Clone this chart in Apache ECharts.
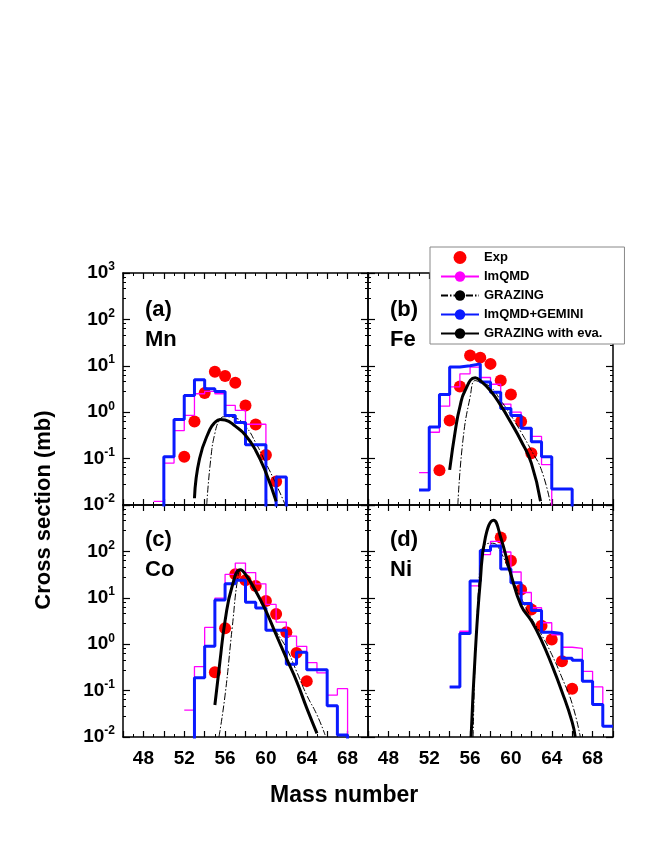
<!DOCTYPE html>
<html>
<head>
<meta charset="utf-8">
<script src="https://cdn.jsdelivr.net/npm/echarts@6/dist/echarts.min.js"></script>
<style>html,body{margin:0;padding:0;background:#fff}#chart{width:664px;height:860px}</style>
</head>
<body>
<div id="chart"></div>
<script>
// 直方图：起始质量数 + 每个质量数的值 (0.001 = 落到坐标轴以下)
var mnGeminiStart = 49;
var mnGemini = [0.001, 0.11, 0.7, 2.3, 5, 3.2, 2.8, 0.85, 0.6, 0.2, 0.2, 0.001, 0.04, 0.001];
var mnImqmdStart = 49;
var mnImqmd = [0.012, 0.08, 0.4, 0.85, 2.5, 2.8, 2.5, 1.4, 1.1, 0.55, 0.55, 0.001];
var feGeminiStart = 51;
var feGemini = [0.021, 0.48, 2.4, 9.4, 10, 11, 4.5, 2.7, 1.2, 0.85, 0.45, 0.23, 0.11, 0.022, 0.022, 0.001];
var feImqmdStart = 51;
var feImqmd = [0.05, 0.37, 1.35, 3.5, 6.7, 9.4, 5.6, 4, 1.5, 1.0, 0.45, 0.3, 0.074, 0.001];
var coGeminiStart = 52;
var coGemini = [0.001, 0.19, 0.9, 9, 20, 24, 8, 6, 2.0, 2.0, 0.37, 0.67, 0.28, 0.28, 0.047, 0.011, 0.001];
var coImqmdStart = 52;
var coImqmd = [0.038, 0.33, 2.3, 9.8, 32, 56, 35, 20, 7.2, 3, 1.5, 0.9, 0.4, 0.24, 0.08, 0.11, 0.001];
var niGeminiStart = 54;
var niGemini = [0.12, 1.7, 23, 105, 130, 42, 21, 7.5, 5.3, 1.8, 1.7, 0.5, 0.45, 0.16, 0.05, 0.017, 0.017];
var niImqmdStart = 54;
var niImqmd = [0.12, 1.9, 18, 85, 165, 97, 36, 13, 6.1, 2.9, 1.6, 0.86, 0.81, 0.26, 0.12, 0.017, 0.017];

// 实验点
var mnExpMass = [52, 53, 54, 55, 56, 57, 58, 59, 60, 61];
var mnExp = [0.11, 0.63, 2.6, 7.4, 6, 4.3, 1.4, 0.54, 0.12, 0.032];
var feExpMass = [53, 54, 55, 56, 57, 58, 59, 60, 61, 62];
var feExp = [0.056, 0.66, 3.6, 16.6, 15, 11, 4.8, 2.4, 0.63, 0.13];
var coExpMass = [55, 56, 57, 58, 59, 60, 61, 62, 63, 64];
var coExp = [0.25, 2.2, 32, 24, 18, 8.5, 4.5, 1.8, 0.65, 0.16];
var niExpMass = [59, 60, 61, 62, 63, 64, 65, 66];
var niExp = [200, 63, 15, 5.6, 2.5, 1.26, 0.43, 0.11];

// GRAZING 曲线 [质量数, 截面]
var mnGrazing = [[54.2, 0.01], [54.6, 0.1], [55, 0.35], [55.5, 0.7], [56, 0.8], [57, 0.75], [58, 0.5], [59, 0.22], [60, 0.08], [61, 0.028], [61.9, 0.01]];
var mnGrazingEva = [[53, 0.014], [53.5, 0.1], [54.5, 0.42], [55, 0.6], [55.5, 0.7], [56, 0.68], [57, 0.5], [58, 0.32], [59, 0.15], [60, 0.05], [61, 0.012]];
var feGrazing = [[54.8, 0.01], [55.3, 0.25], [56, 2.1], [56.5, 4.8], [57, 4.4], [58, 3.5], [59, 1.8], [60, 0.85], [61, 0.37], [62, 0.15], [63, 0.056], [63.9, 0.01]];
var feGrazingEva = [[54, 0.057], [54.6, 0.47], [55, 1.3], [55.5, 2.9], [56.5, 5.5], [57, 4.8], [58, 2.9], [59, 1.4], [60, 0.6], [61, 0.24], [62, 0.08], [62.9, 0.012]];
var coGrazing = [[55.4, 0.01], [56, 0.08], [56.7, 2.3], [57.3, 32], [57.6, 40], [58, 30], [59, 13], [60, 5.2], [61, 1.9], [62, 0.83], [63, 0.26], [64, 0.08], [65, 0.03], [65.8, 0.011]];
var coGrazingEva = [[55, 0.049], [55.5, 0.43], [56, 3.2], [56.7, 18], [57.5, 40], [58, 32], [59, 14], [60, 5.2], [61, 1.6], [62, 0.5], [63, 0.16], [64, 0.042], [65, 0.012]];
var niGrazing = [[56.3, 0.01], [57, 63], [57.6, 146], [58.2, 150], [59, 97], [60, 30], [61, 10], [62, 3.7], [63, 1.6], [64, 0.6], [65, 0.19], [66, 0.052], [66.8, 0.01]];
var niGrazingEva = [[56.1, 0.01], [56.5, 0.6], [57, 23], [57.5, 200], [58.3, 470], [59, 200], [60, 32], [61, 6.8], [62, 3.2], [63, 1.2], [64, 0.36], [65, 0.095], [66, 0.021], [66.3, 0.01]];

var massTicks = [48, 52, 56, 60, 64, 68];

var FONT = 'Liberation Sans';
var panels = [
    { tag: '(a)', el: 'Mn', gem: mnGemini, gemS: mnGeminiStart, imq: mnImqmd, imqS: mnImqmdStart, em: mnExpMass, ev: mnExp, gr: mnGrazing, gre: mnGrazingEva },
    { tag: '(b)', el: 'Fe', gem: feGemini, gemS: feGeminiStart, imq: feImqmd, imqS: feImqmdStart, em: feExpMass, ev: feExp, gr: feGrazing, gre: feGrazingEva },
    { tag: '(c)', el: 'Co', gem: coGemini, gemS: coGeminiStart, imq: coImqmd, imqS: coImqmdStart, em: coExpMass, ev: coExp, gr: coGrazing, gre: coGrazingEva },
    { tag: '(d)', el: 'Ni', gem: niGemini, gemS: niGeminiStart, imq: niImqmd, imqS: niImqmdStart, em: niExpMass, ev: niExp, gr: niGrazing, gre: niGrazingEva }
];
var boxes = [
    { left: 123, top: 273 }, { left: 368, top: 273 },
    { left: 123, top: 505 }, { left: 368, top: 505 }
];

function steps(start, vals) {
    return vals.map(function (v, i) { return [start + i, v]; });
}

var grid = [], xAxis = [], yAxis = [], series = [], graphic = [];
panels.forEach(function (p, g) {
    var b = boxes[g];
    grid.push({ left: b.left, top: b.top, width: 245, height: 232 });
    var bottomRow = g >= 2, leftCol = g % 2 === 0;
    var xBase = {
        type: 'value', gridIndex: g, min: 46, max: 70, interval: 2,
        axisLine: { lineStyle: { color: '#000', width: 1.5 } },
        axisTick: { inside: true, length: 6, lineStyle: { color: '#000', width: 1.2 } },
        minorTick: { show: true, splitNumber: 2, length: 3, lineStyle: { color: '#000' } },
        splitLine: { show: false }
    };
    xAxis.push(Object.assign({}, xBase, {
        position: 'bottom',
        axisLabel: {
            show: bottomRow, margin: 12, color: '#000', fontFamily: FONT, fontWeight: 'bold', fontSize: 19,
            formatter: function (v) { return massTicks.indexOf(v) >= 0 ? String(v) : ''; }
        }
    }));
    xAxis.push(Object.assign({}, xBase, { position: 'top', axisLabel: { show: false } }));
    var yBase = {
        type: 'log', logBase: 10, gridIndex: g, min: 0.01, max: 1000,
        axisLine: { lineStyle: { color: '#000', width: 1.5 } },
        axisTick: { inside: true, length: 7, lineStyle: { color: '#000', width: 1.2 } },
        minorTick: { show: true, splitNumber: 5, length: 3, lineStyle: { color: '#000' } },
        splitLine: { show: false }
    };
    yAxis.push(Object.assign({}, yBase, {
        position: 'left',
        axisLabel: {
            show: leftCol, margin: 8, color: '#000',
            formatter: function (v) {
                var e = Math.round(Math.log10(v));
                if (bottomRow && e === 3) return '';
                return '{b|10}{s|' + e + '}';
            },
            rich: {
                b: { fontFamily: FONT, fontWeight: 'bold', fontSize: 19, color: '#000' },
                s: { fontFamily: FONT, fontWeight: 'bold', fontSize: 12, color: '#000', verticalAlign: 'top', padding: [0, 0, 12, 0] }
            }
        }
    }));
    yAxis.push(Object.assign({}, yBase, { position: 'right', axisLabel: { show: false } }));

    var xi = 2 * g, yi = 2 * g;
    series.push({
        name: 'Exp', type: 'scatter', xAxisIndex: xi, yAxisIndex: yi, symbolSize: 12, z: 2,
        itemStyle: { color: '#ff0000', opacity: 1 },
        data: p.em.map(function (m, i) { return [m, p.ev[i]]; })
    });
    series.push({
        name: 'ImQMD', type: 'line', step: 'end', symbol: 'none', xAxisIndex: xi, yAxisIndex: yi, z: 3,
        lineStyle: { color: '#ff00ff', width: 1.3 }, itemStyle: { color: '#ff00ff' },
        data: steps(p.imqS, p.imq)
    });
    series.push({
        name: 'GRAZING', type: 'line', smooth: true, symbol: 'none', xAxisIndex: xi, yAxisIndex: yi, z: 4,
        lineStyle: { color: '#000', width: 1, type: [7, 2, 1.5, 2] }, itemStyle: { color: '#000' },
        data: p.gr
    });
    series.push({
        name: 'ImQMD+GEMINI', type: 'line', step: 'end', symbol: 'none', xAxisIndex: xi, yAxisIndex: yi, z: 5,
        lineStyle: { color: '#0a1aff', width: 3 }, itemStyle: { color: '#0a1aff' },
        data: steps(p.gemS, p.gem)
    });
    series.push({
        name: 'GRAZING with eva.', type: 'line', smooth: true, symbol: 'none', xAxisIndex: xi, yAxisIndex: yi, z: 6,
        lineStyle: { color: '#000', width: 3 }, itemStyle: { color: '#000' },
        data: p.gre
    });

    var tx = b.left + 22;
    var ty = g >= 2 ? b.top + 24 : b.top + 26;
    graphic.push({ type: 'text', left: tx, top: ty, style: { text: p.tag, font: 'bold 22px "' + FONT + '"', fill: '#000' } });
    graphic.push({ type: 'text', left: tx, top: ty + 30, style: { text: p.el, font: 'bold 22px "' + FONT + '"', fill: '#000' } });
});

graphic.push({ type: 'text', left: 270, top: 784, style: { text: 'Mass number', font: 'bold 23px "' + FONT + '"', fill: '#000' } });
graphic.push({
    type: 'text', x: 44, y: 510, rotation: Math.PI / 2,
    style: { text: 'Cross section (mb)', font: 'bold 22px "' + FONT + '"', fill: '#000', align: 'center', verticalAlign: 'middle' }
});

var chart = echarts.init(document.getElementById('chart'), null, { renderer: 'canvas' });
chart.setOption({
    animation: false,
    backgroundColor: '#fff',
    grid: grid,
    xAxis: xAxis,
    yAxis: yAxis,
    legend: {
        left: 430, top: 247, orient: 'vertical',
        backgroundColor: '#fff', borderColor: '#888', borderWidth: 1,
        padding: [4, 22, 4, 10], itemGap: 6, itemWidth: 38, itemHeight: 13,
        textStyle: { fontFamily: FONT, fontWeight: 'bold', fontSize: 13, color: '#000' },
        data: ['Exp', 'ImQMD', 'GRAZING', 'ImQMD+GEMINI', 'GRAZING with eva.']
    },
    graphic: graphic,
    series: series
});
</script>
</body>
</html>
